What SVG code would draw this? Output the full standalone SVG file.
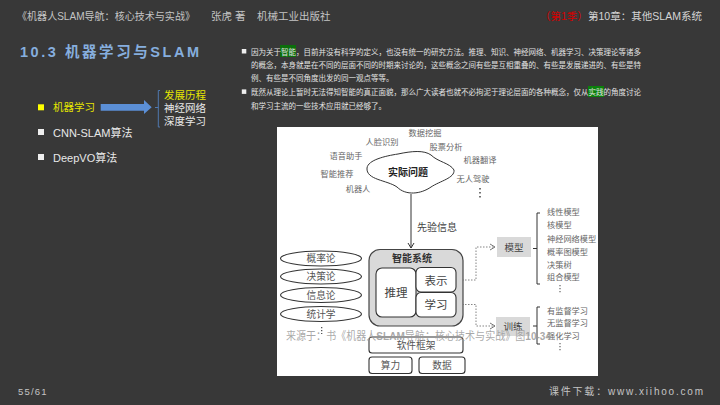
<svg xmlns="http://www.w3.org/2000/svg" width="720" height="405" viewBox="0 0 720 405">
<style>
text{font-family:"Liberation Sans","Noto Sans CJK SC",sans-serif}
.hd{font-size:10.500px;fill:#c4c4c4}
.body{font-size:7.500px;fill:#e2e2e2}
.lst{font-size:10.500px;fill:#e8e8e8}
.d{font-family:"Liberation Serif","Noto Sans CJK SC",serif;fill:#444}
.s{font-size:8.200px;fill:#666;text-anchor:middle}
.e{font-size:9.700px;fill:#555;text-anchor:middle}
.m{font-size:8.200px;fill:#666}
.n{fill:#fff;stroke:#333;stroke-width:1.100}
.c{fill:none;stroke:#333;stroke-width:1}
.dot{fill:none;stroke:#777;stroke-width:.9;stroke-dasharray:1.500 1.500}
.b{font-size:11.500px;fill:#444;text-anchor:middle}
</style>
<defs>
<marker id="ah" markerUnits="userSpaceOnUse" markerWidth="8" markerHeight="8" refX="6" refY="4" orient="auto"><path d="M1 1L6 4L1 7" fill="none" stroke="#333" stroke-width="1"/></marker>
<marker id="dh" markerUnits="userSpaceOnUse" markerWidth="8" markerHeight="8" refX="6" refY="4" orient="auto"><path d="M1 1L6 4L1 7" fill="none" stroke="#666" stroke-width=".9"/></marker>
</defs>
<rect width="720" height="405" fill="#383838"/>
<g id="header">
<text class="hd" x="17" y="19.500" textLength="178" lengthAdjust="spacingAndGlyphs">《机器人SLAM导航：核心技术与实战》</text>
<text class="hd" x="211" y="19.500">张虎 著</text>
<text class="hd" x="257" y="19.500">机械工业出版社</text>
<text x="540" y="19.500" font-size="10.500" fill="#d40000">（第1季）</text>
<text class="hd" x="588" y="19.500" textLength="114" lengthAdjust="spacingAndGlyphs" style="fill:#d4d4d4">第10章：其他SLAM系统</text>
</g>
<text x="20" y="57" font-size="14.500" font-weight="700" fill="#86aede" textLength="179" lengthAdjust="spacing">10.3 机器学习与SLAM</text>
<g id="menu">
<rect x="38" y="104.300" width="6" height="6" fill="#ffff00"/>
<text x="53" y="111" font-size="10.500" fill="#e6e600">机器学习</text>
<path d="M100.700 104H144V100L151.700 107.300L144 114V110.700H100.700Z" fill="#5b8fd6"/>
<path d="M155 107.500h3.300M160 90.500h-1.700v36.500h1.700" fill="none" stroke="#4f79b0" stroke-width="1"/>
<text x="164" y="99" font-size="10.500" fill="#e6e600">发展历程</text>
<text class="lst" x="164" y="112">神经网络</text>
<text class="lst" x="164" y="125">深度学习</text>
<rect x="38" y="129" width="6" height="6" fill="#eee"/>
<text class="lst" style="font-size:11px" x="53" y="136.500">CNN-SLAM算法</text>
<rect x="38" y="154" width="6" height="6" fill="#eee"/>
<text class="lst" style="font-size:11px" x="53" y="161.500">DeepVO算法</text>
</g>
<g id="body-text">
<rect x="241.800" y="49" width="4.500" height="4.500" fill="#eee"/>
<rect x="241.800" y="89.400" width="4.500" height="4.500" fill="#eee"/>
<rect x="280" y="45" width="16" height="12" fill="#0b6e0b"/>
<rect x="588" y="86" width="16" height="11" fill="#0b800b"/>
<text class="body" x="251" y="54.500" textLength="390">因为关于智能，目前并没有科学的定义，也没有统一的研究方法。推理、知识、神经网络、机器学习、决策理论等诸多</text>
<text class="body" x="251" y="68" textLength="390">的概念，本身就是在不同的层面不同的时期来讨论的，这些概念之间有些是互相重叠的、有些是发展递进的、有些是特</text>
<text class="body" x="251" y="81">例、有些是不同角度出发的同一观点等等。</text>
<text class="body" x="251" y="95" textLength="390">既然从理论上暂时无法得知智能的真正面貌，那么广大读者也就不必拘泥于理论层面的各种概念，仅从实践的角度讨论</text>
<text class="body" x="251" y="108.500">和学习主流的一些技术应用就已经够了。</text>
</g>
<rect id="figure" x="277" y="127" width="321" height="249" fill="#fff"/>
<g id="problem-labels">
<text class="d s" x="425" y="136">数据挖掘</text>
<text class="d s" x="382" y="145">人脸识别</text>
<text class="d s" x="446" y="150">股票分析</text>
<text class="d s" x="346" y="159">语音助手</text>
<text class="d s" x="480" y="163">机器翻译</text>
<text class="d s" x="337" y="177">智能推荐</text>
<text class="d s" x="473" y="182">无人驾驶</text>
<text class="d s" x="358" y="192">机器人</text>
<path d="M480 188v11" stroke="#444" stroke-width="1.500" stroke-dasharray="1.500 2.500" fill="none"/>
</g>
<g id="problem">
<path class="c" d="M367 168C368 160 385 156 398 154C412 151 424 150 431 155C438 162 450 163 454 170C455 178 440 181 431 187C421 194 406 196 397 187C387 180 366 180 367 168Z"/>
<text class="d" x="408" y="176" font-size="10" font-weight="700" text-anchor="middle" style="fill:#222">实际问题</text>
</g>
<g id="connectors">
<path class="c" marker-end="url(#ah)" d="M411 194V248"/>
<path class="dot" marker-end="url(#dh)" d="M456 280H476V247H495"/>
<path class="dot" marker-end="url(#dh)" d="M456 304.500H476V326H495"/>
<path class="c" d="M533 248.500H537M540 213H537V284H540"/>
<path class="c" d="M533 326H537M540 307H537V344H540"/>
</g>
<text class="d" x="417" y="231" font-size="10">先验信息</text>
<g id="theories">
<g id="t1"><ellipse class="n" cx="321" cy="258.500" rx="40.500" ry="7.500"/><text class="d e" x="321" y="262">概率论</text></g>
<g id="t2"><ellipse class="n" cx="321" cy="276.500" rx="40.500" ry="7.500"/><text class="d e" x="321" y="280">决策论</text></g>
<g id="t3"><ellipse class="n" cx="321" cy="295" rx="40.500" ry="7.500"/><text class="d e" x="321" y="298.500">信息论</text></g>
<g id="t4"><ellipse class="n" cx="321" cy="314" rx="40.500" ry="7.500"/><text class="d e" x="321" y="317.500">统计学</text></g>
<path d="M321.700 327v7" stroke="#444" stroke-width="1.200" stroke-dasharray="1.200 1.800" fill="none"/>
</g>
<g id="system">
<rect x="369" y="249.500" width="94" height="76.500" rx="11" fill="#d9d9d9" stroke="#444" stroke-width="1.200"/>
<text class="d" x="412" y="262" font-size="10" font-weight="700" text-anchor="middle" style="fill:#333">智能系统</text>
<g id="reason"><rect class="n" x="376" y="268" width="40" height="49" rx="6"/><text class="d b" x="396" y="296.500">推理</text></g>
<g id="repr"><rect class="n" x="416" y="267.500" width="40" height="24.500" rx="5"/><text class="d b" x="436" y="284.500">表示</text></g>
<g id="learn"><rect class="n" x="416" y="292.500" width="40" height="24.500" rx="5"/><text class="d b" x="436" y="309">学习</text></g>
</g>
<g id="infra">
<g id="sw"><rect class="n" x="369" y="337" width="94" height="16" rx="3"/><text class="d e" x="416" y="349">软件框架</text></g>
<g id="power"><rect class="n" x="369" y="357" width="43" height="16.500" rx="3"/><text class="d e" x="390.500" y="369">算力</text></g>
<g id="data"><rect class="n" x="419" y="357" width="46" height="16.500" rx="3"/><text class="d e" x="442" y="369">数据</text></g>
</g>
<g id="model"><rect x="497" y="237" width="34" height="20" fill="#d9d9d9"/><text class="d" x="514" y="251" font-size="9.500" text-anchor="middle">模型</text></g>
<g id="train"><rect x="496" y="317" width="34" height="19" fill="#d9d9d9"/><text class="d" x="513" y="330" font-size="9.500" text-anchor="middle">训练</text></g>
<g id="lists">
<text class="d m" x="547" y="215">线性模型</text>
<text class="d m" x="547" y="228">核模型</text>
<text class="d m" x="547" y="242">神经网络模型</text>
<text class="d m" x="547" y="255">概率图模型</text>
<text class="d m" x="547" y="268">决策树</text>
<text class="d m" x="547" y="280">组合模型</text>
<path d="M560 285v8" stroke="#555" stroke-width="1.100" stroke-dasharray="1.200 1.800" fill="none"/>
<text class="d m" x="547" y="314">有监督学习</text>
<text class="d m" x="547" y="326">无监督学习</text>
<text class="d m" x="547" y="339">强化学习</text>
<path d="M560 343v8" stroke="#555" stroke-width="1.100" stroke-dasharray="1.200 1.800" fill="none"/>
</g>
<text x="286" y="340" font-size="11.800" fill="#999" fill-opacity=".85" textLength="265" lengthAdjust="spacingAndGlyphs">来源于：书《机器人<tspan font-weight="700">SLAM</tspan>导航：核心技术与实战》图<tspan font-weight="700">10-34</tspan></text>
<g id="footer">
<text x="18" y="395" font-size="9.500" fill="#c4c4c4" letter-spacing="1.200">55/61</text>
<text x="549" y="395" font-size="10" fill="#c4c4c4" textLength="154">课件下载：www.xiihoo.com</text>
</g>
</svg>
